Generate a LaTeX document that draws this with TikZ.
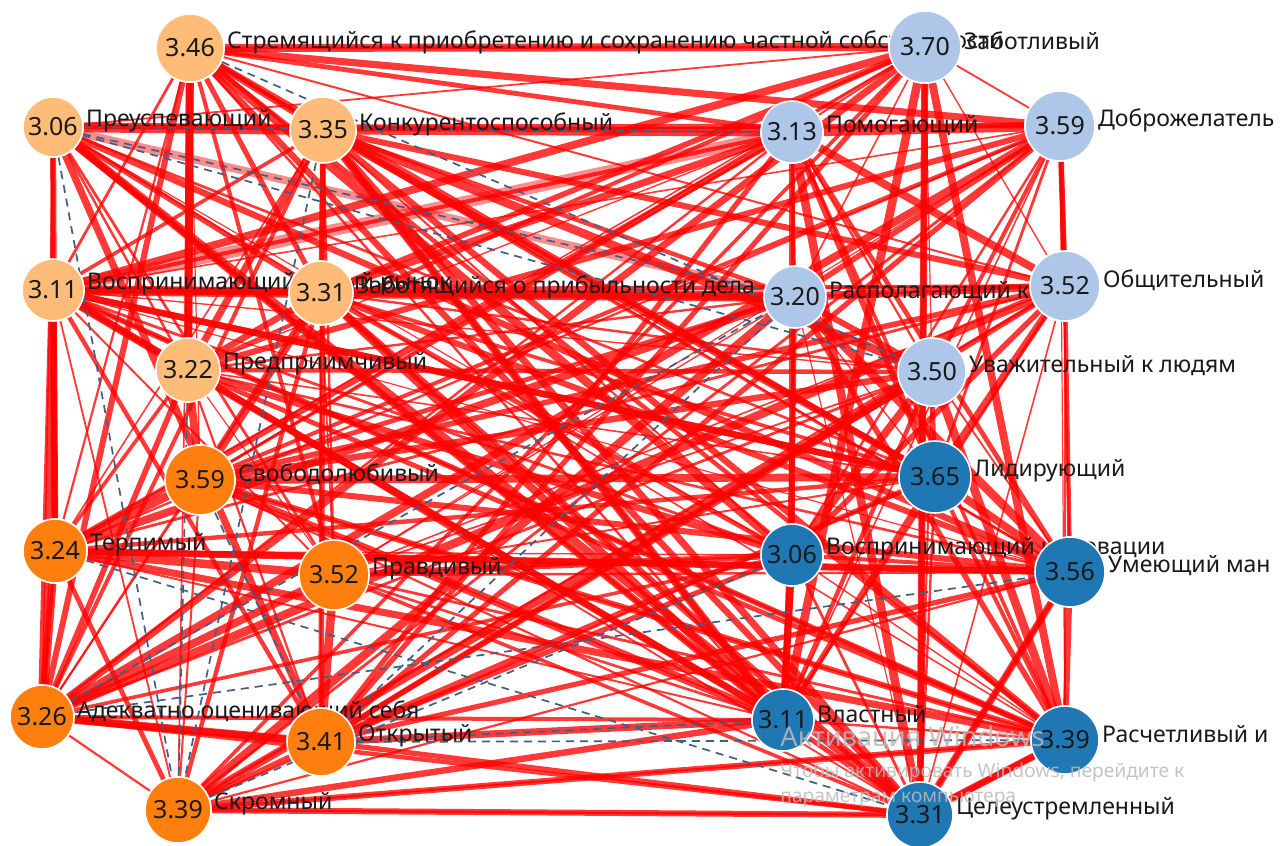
\documentclass[tikz,border=0pt]{standalone}
\usepackage{fontspec}
\setmainfont{Noto Sans}
\usetikzlibrary{backgrounds}

\definecolor{lor}{RGB}{255,187,120}
\definecolor{org}{RGB}{255,127,14}
\definecolor{lbl}{RGB}{174,199,232}
\definecolor{dbl}{RGB}{31,119,180}
\definecolor{dashcol}{RGB}{65,95,130}
\definecolor{ink}{RGB}{25,25,25}

\tikzset{
  gn/.style={circle, draw=white, line width=0.8pt, inner sep=0pt, text=ink,
             font=\fontsize{12.5}{14}\selectfont},
  lab/.style={inner sep=0pt, text=ink, font=\fontsize{11.5}{13}\selectfont},
  edge/.style={draw=red, draw opacity=0.78},
  dashedge/.style={draw=dashcol, line width=0.85pt, dash pattern=on 4pt off 3pt},
  wmark/.style={inner sep=0pt, anchor=west, text=black!27, opacity=0.85},
}

% circle node with its value, followed by its caption on the right
\newcommand{\gnode}[7]{%
  \node[gn, fill=#6, minimum size=#4pt] (#1) at (#2,#3) {#5};
  \node[lab, anchor=west] (#1l) at ([xshift=1pt,yshift=3pt]#1.east) {#7};
}

% negative links (drawn dashed, never as red lines)
\newcommand{\neglinks}{2/16, 2/18, 1/18, 2/12, 3/12, 2/14, 10/21, 11/22, 11/23,
                       12/20, 8/24, 11/16, 10/16, 7/11, 6/12}
\foreach \a/\b in \neglinks {\expandafter\gdef\csname neg-\a-\b\endcsname{}}

\begin{document}
\begin{tikzpicture}[x=0.5pt, y=-0.5pt]
\useasboundingbox (0,0) rectangle (1280,846);
\clip (0,0) rectangle (1280,846);

% ---- nodes (drawn in order, later circles cover earlier captions)
\gnode{n1}{190}{48}{34}{3.46}{lor}{Стремящийся к приобретению и сохранению частной собственности}
\gnode{n2}{53}{127}{30}{3.06}{lor}{Преуспевающий}
\gnode{n3}{323}{130}{33}{3.35}{lor}{Конкурентоспособный}
\gnode{n4}{53}{290}{31}{3.11}{lor}{Воспринимающий новый рынок}
\gnode{n5}{321}{293}{32}{3.31}{lor}{Заботящийся о прибыльности дела}
\gnode{n6}{188}{370}{32}{3.22}{lor}{Предприимчивый}
\gnode{n7}{200}{480}{35}{3.59}{org}{Свободолюбивый}
\gnode{n8}{55}{551}{32}{3.24}{org}{Терпимый}
\gnode{n9}{334}{575}{35}{3.52}{org}{Правдивый}
\gnode{n10}{42}{717}{32}{3.26}{org}{Адекватно оценивающий себя}
\gnode{n11}{321}{742}{34}{3.41}{org}{Открытый}
\gnode{n12}{178}{810}{33}{3.39}{org}{Скромный}
\gnode{n13}{925}{47}{36}{3.70}{lbl}{Заботливый}
\gnode{n14}{792}{132}{31}{3.13}{lbl}{Помогающий}
\gnode{n15}{1060}{126}{35}{3.59}{lbl}{Доброжелатель}
\gnode{n16}{795}{297}{31}{3.20}{lbl}{Располагающий к себе}
\gnode{n17}{1065}{286}{35}{3.52}{lbl}{Общительный}
\gnode{n18}{932}{372}{34}{3.50}{lbl}{Уважительный к людям}
\gnode{n19}{935}{477}{36}{3.65}{dbl}{Лидирующий}
\gnode{n20}{792}{555}{31}{3.06}{dbl}{Воспринимающий инновации}
\gnode{n21}{1070}{572}{35}{3.56}{dbl}{Умеющий ман}
\gnode{n22}{783}{720}{31}{3.11}{dbl}{Властный}
\gnode{n23}{1065}{740}{34}{3.39}{dbl}{Расчетливый и}
\gnode{n24}{920}{815}{33}{3.31}{dbl}{Целеустремленный}

% ---- connectors, kept underneath the nodes
\begin{pgfonlayer}{background}
\fill[white] (0,0) rectangle (1280,846);
\foreach \i in {1,...,23}{
  \pgfmathtruncatemacro\js{\i+1}
  \foreach \j in {\js,...,24}{
    \pgfmathtruncatemacro\w{mod(\i*37+\j*17+\i*\j*11,23)}
    \ifcsname neg-\i-\j\endcsname\else
    \ifnum\w>2
      \pgfmathsetmacro\lw{\w<12 ? 0.6+(\w-3)*0.1 : (\w<19 ? 1.8+(\w-12)*0.2 : 3.2+(\w-19)*0.35)}
      \draw[edge, line width=\lw pt] (n\i) -- (n\j);
    \fi\fi
  }
}
% strongest links
\foreach \a/\b/\t in {2/3/5, 3/14/4.5, 14/15/4.8, 1/13/4, 4/5/5, 5/16/5,
                      16/17/4, 1/6/4, 4/8/3.5, 8/10/4, 3/22/4, 3/24/3.5, 3/19/3.5,
                      14/20/2.8, 20/22/3.5, 13/24/2.8, 15/17/2.8, 21/24/3.5, 23/24/3.5,
                      10/11/4, 11/22/3.5, 7/22/4, 6/22/3.5, 5/24/3.5, 8/21/3.5,
                      9/20/3.2, 2/22/3.5, 1/3/3.2, 2/4/2, 4/6/4, 4/19/3.2,
                      12/24/1.2, 7/23/3, 12/23/3, 7/21/3, 4/23/2.8}
  \draw[edge, line width=\t pt] (n\a) -- (n\b);
\draw[edge, draw opacity=0.45, line width=6pt] (n4) -- (n14);
\draw[edge, draw opacity=0.45, line width=4pt] (n2) -- (n16);
% negative links
\foreach \a/\b in \neglinks
  \draw[dashedge] (n\a) -- (n\b);
\end{pgfonlayer}

% ---- system notice laid over the drawing
\node[wmark, font=\fontsize{13.6}{15}\selectfont] (wm1) at (780,738) {Активация Windows};
\node[wmark, font=\fontsize{9.6}{11}\selectfont] (wm2) at (780,772) {Чтобы активировать Windows, перейдите к};
\node[wmark, font=\fontsize{9.6}{11}\selectfont] (wm3) at (780,800) {параметрам компьютера};
\end{tikzpicture}
\end{document}
